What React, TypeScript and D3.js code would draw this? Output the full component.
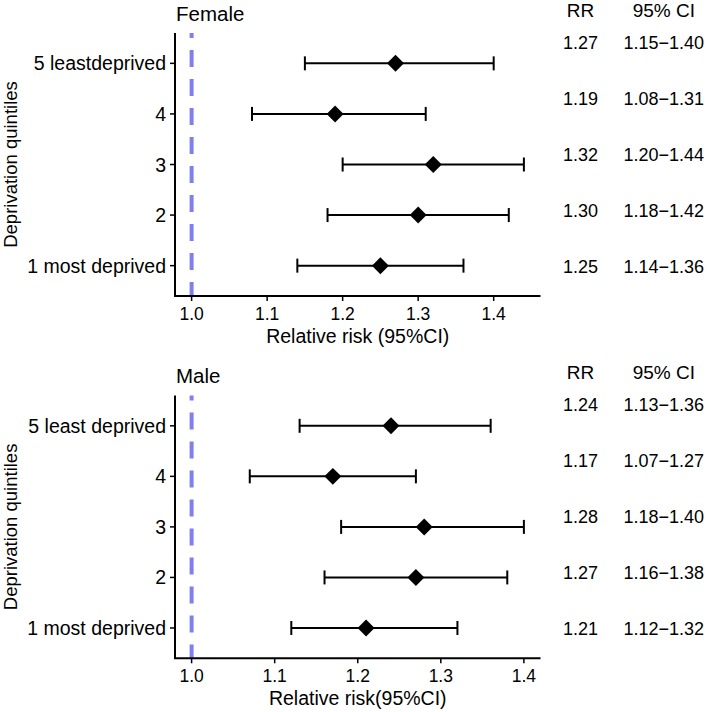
import React from "react";
import * as d3 from "d3";

// ---------- data ----------
const quintilesFemale = ["5 leastdeprived", "4", "3", "2", "1 most deprived"];
const quintilesMale = ["5 least deprived", "4", "3", "2", "1 most deprived"];

const femaleRR = [1.27, 1.19, 1.32, 1.3, 1.25];
const femaleLower = [1.15, 1.08, 1.2, 1.18, 1.14];
const femaleUpper = [1.4, 1.31, 1.44, 1.42, 1.36];

const maleRR = [1.24, 1.17, 1.28, 1.27, 1.21];
const maleLower = [1.13, 1.07, 1.18, 1.16, 1.12];
const maleUpper = [1.36, 1.27, 1.4, 1.38, 1.32];

const xTicks = [1.0, 1.1, 1.2, 1.3, 1.4];
const refValue = 1.0;

const panelTitles = ["Female", "Male"];
const xTitles = ["Relative risk (95%CI)", "Relative risk(95%CI)"];
const yTitle = "Deprivation quintiles";
const tableHeaders = ["RR", "95% CI"];

// ---------- layout ----------
const W = 709;
const H = 712;
const FONT = "'Liberation Sans', Arial, Helvetica, sans-serif";
const LEFT = 175;
const RIGHT = 540.5;
const panels = [
  { top: 33, bottom: 296 },
  { top: 395.5, bottom: 658.3 },
];
const RR_X = 580.5;
const CI_X = 663.8;
const ROW_STEP = 56;

const fmt = (v: number) => v.toFixed(2);

function Panel({
  idx,
  cats,
  rr,
  lo,
  hi,
}: {
  idx: number;
  cats: string[];
  rr: number[];
  lo: number[];
  hi: number[];
}) {
  const { top, bottom } = panels[idx];
  const minV = Math.min(refValue, ...lo);
  const maxV = Math.max(refValue, ...hi);
  const pad = (maxV - minV) * 0.05;
  const x = d3.scaleLinear().domain([minV - pad, maxV + pad]).range([LEFT, RIGHT]);
  const y = d3
    .scalePoint<string>()
    .domain(cats)
    .range([top, bottom])
    .padding(0.6);

  const diamond = d3.symbol().type(d3.symbolSquare).size(144)();
  const lastY = y(cats[cats.length - 1]) as number;
  const tableY = (i: number) => lastY - (cats.length - 1 - i) * ROW_STEP;
  const headerY = tableY(0) - 31;

  return (
    <g>
      {/* title */}
      <text x={176} y={top - 12.5} fontSize={20.5} fontFamily={FONT} fill="#000">
        {panelTitles[idx]}
      </text>

      {/* reference dashed line */}
      <line
        x1={x(refValue)}
        x2={x(refValue)}
        y1={top}
        y2={bottom}
        stroke="#7f7ff0"
        strokeWidth={4}
        strokeDasharray="17 12"
        strokeDashoffset={12}
      />

      {/* error bars */}
      {cats.map((c, i) => {
        const yy = y(c) as number;
        return (
          <g key={c}>
            <line x1={x(lo[i])} x2={x(hi[i])} y1={yy} y2={yy} stroke="#000" strokeWidth={2} />
            <line x1={x(lo[i])} x2={x(lo[i])} y1={yy - 7} y2={yy + 7} stroke="#000" strokeWidth={2} />
            <line x1={x(hi[i])} x2={x(hi[i])} y1={yy - 7} y2={yy + 7} stroke="#000" strokeWidth={2} />
            <path d={diamond as string} transform={`translate(${x(rr[i])},${yy}) rotate(45)`} fill="#000" />
          </g>
        );
      })}

      {/* axes */}
      <line x1={LEFT} x2={LEFT} y1={top} y2={bottom} stroke="#000" strokeWidth={2} />
      <line x1={LEFT - 1} x2={RIGHT} y1={bottom} y2={bottom} stroke="#000" strokeWidth={2} />

      {cats.map((c) => {
        const yy = y(c) as number;
        return (
          <g key={"yt" + c}>
            <line x1={LEFT - 5} x2={LEFT} y1={yy} y2={yy} stroke="#000" strokeWidth={1.5} />
            <text
              x={166}
              y={yy}
              textAnchor="end"
              dominantBaseline="central"
              fontSize={19.5}
              fontFamily={FONT}
              fill="#000"
            >
              {c}
            </text>
          </g>
        );
      })}

      {xTicks.map((t) => (
        <g key={"xt" + t}>
          <line x1={x(t)} x2={x(t)} y1={bottom} y2={bottom + 5} stroke="#000" strokeWidth={1.5} />
          <text
            x={x(t)}
            y={bottom + 17.5}
            textAnchor="middle"
            dominantBaseline="central"
            fontSize={17.5}
            fontFamily={FONT}
            fill="#000"
          >
            {t.toFixed(1)}
          </text>
        </g>
      ))}

      {/* axis titles */}
      <text
        x={(LEFT + RIGHT) / 2}
        y={bottom + 40}
        textAnchor="middle"
        dominantBaseline="central"
        fontSize={19.5}
        fontFamily={FONT}
        fill="#000"
      >
        {xTitles[idx]}
      </text>
      <text
        transform={`translate(16.5,${(top + bottom) / 2}) rotate(-90)`}
        textAnchor="middle"
        fontSize={18.5}
        fontFamily={FONT}
        fill="#000"
      >
        {yTitle}
      </text>

      {/* table */}
      <text x={RR_X} y={headerY} textAnchor="middle" dominantBaseline="central" fontSize={19} fontFamily={FONT} fill="#000">
        {tableHeaders[0]}
      </text>
      <text x={CI_X} y={headerY} textAnchor="middle" dominantBaseline="central" fontSize={19} fontFamily={FONT} fill="#000">
        {tableHeaders[1]}
      </text>
      {cats.map((c, i) => (
        <g key={"tb" + c}>
          <text x={RR_X} y={tableY(i) + 1} textAnchor="middle" dominantBaseline="central" fontSize={18} fontFamily={FONT} fill="#000">
            {fmt(rr[i])}
          </text>
          <text x={CI_X} y={tableY(i) + 1} textAnchor="middle" dominantBaseline="central" fontSize={18} fontFamily={FONT} fill="#000">
            {`${fmt(lo[i])}\u2212${fmt(hi[i])}`}
          </text>
        </g>
      ))}
    </g>
  );
}

export default function App() {
  return (
    <svg
      width={W}
      height={H}
      viewBox={`0 0 ${W} ${H}`}
      style={{ position: "absolute", left: 0, top: 0, background: "#fff" }}
    >
      <rect width={W} height={H} fill="#fff" />
      <Panel idx={0} cats={quintilesFemale} rr={femaleRR} lo={femaleLower} hi={femaleUpper} />
      <Panel idx={1} cats={quintilesMale} rr={maleRR} lo={maleLower} hi={maleUpper} />
    </svg>
  );
}
